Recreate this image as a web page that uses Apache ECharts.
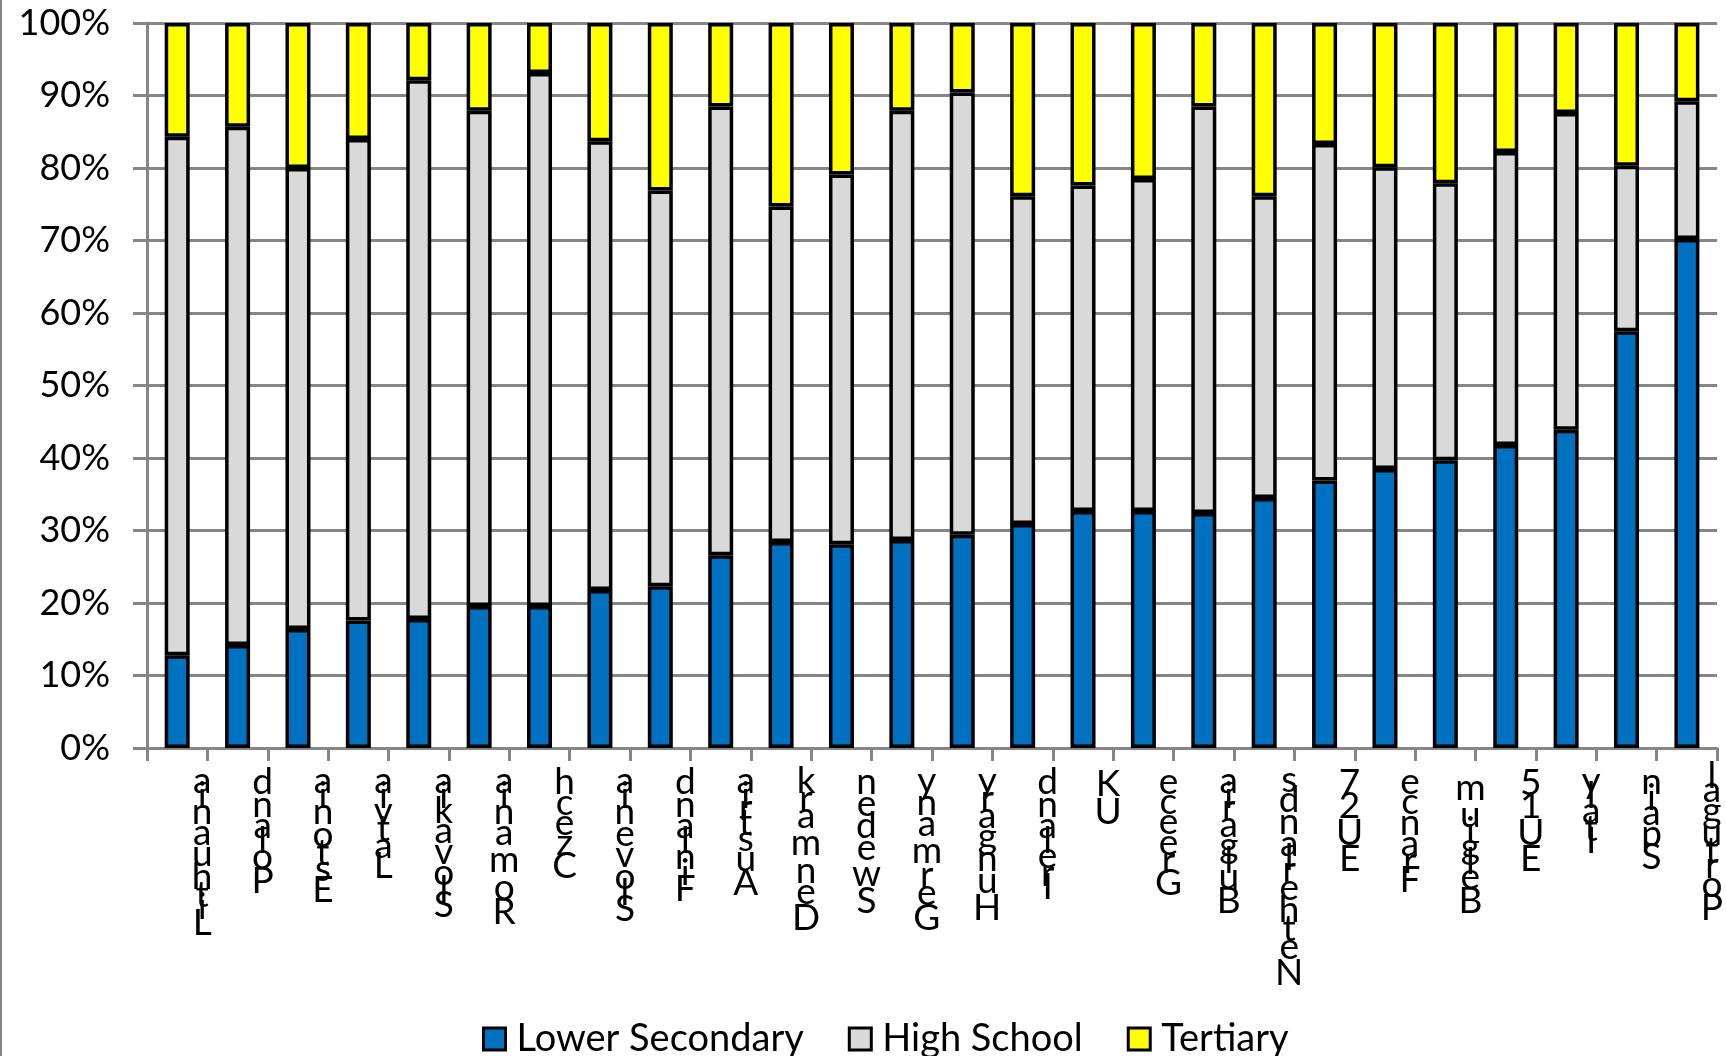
<!DOCTYPE html>
<html>
<head>
<meta charset="utf-8">
<script src="https://cdn.jsdelivr.net/npm/echarts@6/dist/echarts.min.js"></script>
<style>
  html, body { margin: 0; padding: 0; background: #ffffff; }
  #chart { width: 1726px; height: 1056px; }
</style>
</head>
<body>
<div id="chart"></div>
<script>
// Educational attainment shares by country (percent of population)
const countries = [
  'Lithuania', 'Poland', 'Estonia', 'Latvia', 'Slovakia', 'Romania', 'Czech',
  'Slovenia', 'Finland', 'Austria', 'Denmark', 'Sweden', 'Germany', 'Hungary',
  'Ireland', 'UK', 'Greece', 'Bulgaria', 'Netherlands', 'EU27', 'France',
  'Belgium', 'EU15', 'Italy', 'Spain', 'Portugal'
];
const lowerSecondary = [
  12.8, 14.2, 16.4, 17.6, 17.8, 19.6, 19.6, 21.8, 22.3, 26.6, 28.4, 28.1, 28.7,
  29.4, 30.9, 32.7, 32.7, 32.4, 34.5, 36.9, 38.5, 39.7, 41.8, 43.9, 57.5, 70.2
];
const highSchool = [
  71.5, 71.5, 63.6, 66.4, 74.3, 68.3, 73.5, 61.9, 54.6, 61.9, 46.3, 51.0, 59.2,
  61.0, 45.2, 44.9, 45.8, 56.1, 41.6, 46.4, 41.6, 38.2, 40.4, 43.7, 22.8, 19.0
];
const tertiary = [
  15.7, 14.3, 20.0, 16.0, 7.9, 12.1, 6.9, 16.3, 23.1, 11.5, 25.3, 20.9, 12.1,
  9.6, 23.9, 22.4, 21.5, 11.5, 23.9, 16.7, 19.9, 22.1, 17.8, 12.4, 19.7, 10.8
];
const seriesNames = ['Lower Secondary', 'High School', 'Tertiary'];
const percentTicks = [0, 10, 20, 30, 40, 50, 60, 70, 80, 90, 100];

const FONT = 'Lato, "Open Sans", sans-serif';
const NAME_SIZE = 37;
const GRID_GREY = '#868686';

// Country names are written bottom-to-top with upright glyphs; each glyph
// advances by its own width, so narrow letters crowd into their neighbours.
const measureCtx = document.createElement('canvas').getContext('2d');
measureCtx.font = NAME_SIZE + 'px ' + FONT;
const glyphRich = {};
const glyphKey = {};
let glyphCount = 0;
countries.join('').split('').forEach(function (ch) {
  if (glyphKey[ch]) return;
  const key = 'g' + (glyphCount++);
  glyphKey[ch] = key;
  glyphRich[key] = {
    fontFamily: FONT,
    fontSize: NAME_SIZE,
    color: '#000000',
    align: 'center',
    lineHeight: measureCtx.measureText(ch).width * 1.09
  };
});
function stackedName(name) {
  return name.split('').reverse().map(function (ch) {
    return '{' + glyphKey[ch] + '|' + ch + '}';
  }).join('\n');
}

const chart = echarts.init(document.getElementById('chart'), null, { renderer: 'canvas' });

const colors = ['#0070C0', '#D9D9D9', '#FFFF00'];
const values = [lowerSecondary, highSchool, tertiary];

chart.setOption({
  animation: false,
  backgroundColor: '#ffffff',
  grid: { left: 147, right: 8, top: 23, bottom: 308, containLabel: false },
  xAxis: {
    type: 'category',
    data: countries,
    boundaryGap: true,
    axisLine: { show: true, lineStyle: { color: GRID_GREY, width: 3 } },
    axisTick: { show: true, length: 13, lineStyle: { color: GRID_GREY, width: 3 } },
    axisLabel: {
      interval: 0,
      margin: 23,
      padding: [0, 0, 0, 50],
      formatter: stackedName,
      rich: glyphRich
    },
    splitLine: { show: false }
  },
  yAxis: {
    type: 'value',
    min: percentTicks[0],
    max: percentTicks[percentTicks.length - 1],
    interval: percentTicks[1] - percentTicks[0],
    axisLine: { show: true, lineStyle: { color: GRID_GREY, width: 3 } },
    axisTick: { show: true, length: 14, lineStyle: { color: GRID_GREY, width: 3 } },
    axisLabel: {
      margin: 37,
      formatter: '{value}%',
      fontFamily: FONT,
      fontSize: 36,
      color: '#000000'
    },
    splitLine: { show: true, lineStyle: { color: GRID_GREY, width: 3 } }
  },
  legend: {
    left: 477,
    top: 1013,
    itemWidth: 22,
    itemHeight: 22,
    itemGap: 44,
    icon: 'rect',
    itemStyle: { borderColor: '#000000', borderWidth: 3 },
    textStyle: {
      fontFamily: FONT,
      fontSize: 38,
      color: '#000000',
      lineHeight: 42,
      padding: [0, 0, 0, 6]
    },
    data: seriesNames
  },
  graphic: [{
    type: 'line',
    shape: { x1: 1, y1: 0, x2: 1, y2: 1056 },
    style: { stroke: GRID_GREY, lineWidth: 2 },
    silent: true
  }],
  series: seriesNames.map(function (name, i) {
    return {
      name: name,
      type: 'bar',
      stack: 'share',
      barWidth: 25,
      data: values[i],
      itemStyle: { color: colors[i], borderColor: '#000000', borderWidth: 3.5 }
    };
  })
});
</script>
</body>
</html>
